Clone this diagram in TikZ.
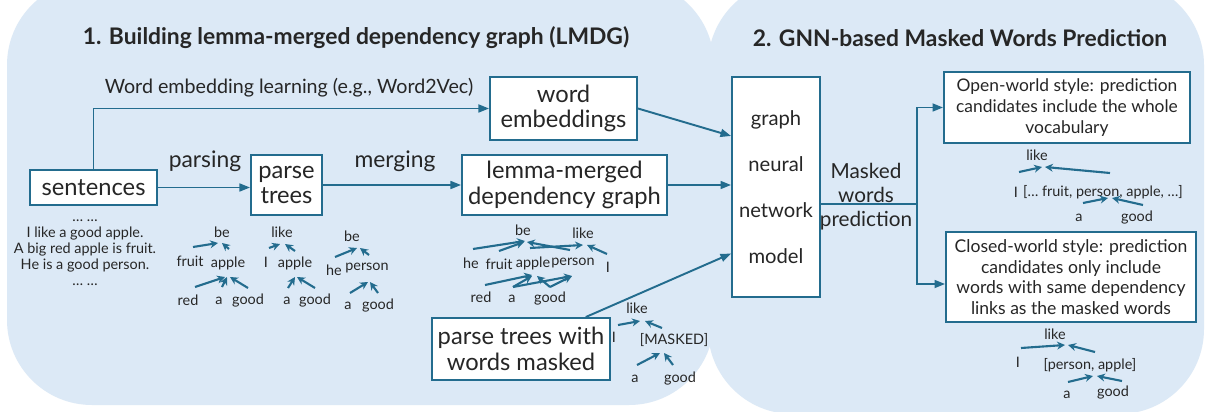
\documentclass[tikz,border=0pt]{standalone}
\usepackage{fontspec}
\setmainfont{Lato}
\usetikzlibrary{arrows.meta,calc}
\definecolor{panel}{HTML}{DCE9F6}
\definecolor{edge}{HTML}{236C8E}
\definecolor{ink}{HTML}{262626}
\newcommand\tarr[6]{\draw[ta] ([shift={(#2,#3)}]#1.center) -- ([shift={(#5,#6)}]#4.center);}
\begin{document}
\begin{tikzpicture}[x=0.02cm,y=-0.02cm,
 box/.style 2 args={draw=edge, line width=1.1pt, fill=white, minimum width=#1*0.02cm, minimum height=#2*0.02cm, inner sep=0pt, align=center, text=ink},
 big/.style={font=\fontsize{13.5}{14.7}\selectfont},
 lbl/.style={text=ink, inner sep=0pt, align=center},
 arr/.style={draw=edge, line width=1.1pt, -{Triangle[length=6pt,width=4.5pt]}},
 ln/.style={draw=edge, line width=1.1pt},
 tw/.style={font=\fontsize{8.2}{9}\selectfont, text=ink, inner sep=0pt},
 ta/.style={draw=edge, line width=1.2pt, -{Stealth[length=4.5pt,width=4.5pt]}},
]
\useasboundingbox (0,0) rectangle (1207,412);
\clip (0,0) rectangle (1207,412);
\fill[white] (0,0) rectangle (1207,412);
% panels
\fill[panel, rounded corners=1.7cm] (7,-20) rectangle (714,405);
\fill[panel, rounded corners=1.7cm] (708,-20) rectangle (1204,414);

% titles
\node[lbl, font=\bfseries\fontsize{13}{15}\selectfont] (t1) at (356,38) {1. Building lemma-merged dependency graph (LMDG)};
\node[lbl, font=\bfseries\fontsize{13}{15}\selectfont] (t2) at (960,38) {2. GNN-based Masked Words Prediction};

% main boxes
\node[box={127}{35}, big] (sent) at (93.5,187.5) {sentences};
\node[box={71}{60}, big] (pt) at (286.5,185) {parse\\trees};
\node[box={205}{60}, big] (lmdg) at (564.5,185) {lemma-merged\\dependency graph};
\node[box={147}{63}, big] (we) at (563.5,108.5) {word\\embeddings};
\node[box={88}{220}] (gnn) at (776,187) {};
\node[lbl, font=\fontsize{11.5}{26.3}\selectfont] (gnntxt) at (776,187) {graph\\neural\\network\\model};
\node[box={178}{62}, big] (masked) at (521,349) {parse trees with\\words masked};
\node[box={246}{71}, font=\fontsize{9.9}{12}\selectfont] (open) at (1067,107.5) {Open-world style: prediction\\candidates include the whole\\vocabulary};
\node[box={250}{90}, font=\fontsize{10}{11.7}\selectfont] (closed) at (1071,277) {Closed-world style: prediction\\candidates only include\\words with same dependency\\links as the masked words};

% labels
\node[lbl, font=\fontsize{11.2}{13}\selectfont] (wel) at (289,88) {Word embedding learning (e.g., Word2Vec)};
\node[lbl, font=\fontsize{13}{14}\selectfont] (parsing) at (205,161) {parsing};
\node[lbl, font=\fontsize{13}{14}\selectfont] (merging) at (395,161) {merging};
\node[lbl, font=\fontsize{11.8}{13.6}\selectfont] (mwp) at (866,197) {Masked\\words\\prediction};

% sentences text
\node[lbl, font=\fontsize{8.2}{9.1}\selectfont] (stxt) at (85,253) {\dots\ \dots\\I like a good apple.\\A big red apple is fruit.\\He is a good person.\\\dots\ \dots};

% connectors
\draw[arr] (sent.north) |- (we.west);
\draw[arr] (sent.east) -- (sent.east -| pt.west);
\draw[arr] (pt.east) -- (lmdg.west);
\draw[arr] (lmdg.east) -- (lmdg.east -| gnn.west);
\draw[arr] (we.east) -- ($(gnn.north west)!0.27!(gnn.south west)$);
\draw[arr] ($(masked.north west)!0.86!(masked.north east)$) -- ($(gnn.north west)!0.8!(gnn.south west)$);
\coordinate (j) at (917,204);
\draw[ln] (gnn.east |- j) -- (j);
\draw[arr] (j) |- (open.west);
\draw[arr] (j) |- ($(closed.west)+(0,7)$);

% tree 1
\node[tw] (a1be) at (222,232) {be};
\node[tw] (a1fruit) at (190,261) {fruit};
\node[tw] (a1apple) at (228,263) {apple};
\node[tw] (a1red) at (188,300) {red};
\node[tw] (a1a) at (219,301) {a};
\node[tw] (a1good) at (248,301) {good};
\tarr{a1fruit}{3}{-14}{a1be}{-4}{11}
\tarr{a1apple}{1}{-14}{a1be}{0}{11}
\tarr{a1red}{7}{-13}{a1apple}{-3}{14}
\tarr{a1a}{3}{-14}{a1apple}{-1}{14}
\tarr{a1good}{0}{-13}{a1apple}{2}{14}
% tree 2
\node[tw] (a2like) at (282,232) {like};
\node[tw] (a2I) at (266,262) {I};
\node[tw] (a2apple) at (295,263) {apple};
\node[tw] (a2a) at (287,301) {a};
\node[tw] (a2good) at (315,301) {good};
\tarr{a2I}{3}{-14}{a2like}{-2}{12}
\tarr{a2apple}{0}{-12}{a2like}{3}{12}
\tarr{a2a}{1}{-13}{a2apple}{0}{14}
\tarr{a2good}{0}{-13}{a2apple}{2}{14}
% tree 3
\node[tw] (a3be) at (352,236) {be};
\node[tw] (a3he) at (334,270) {he};
\node[tw] (a3person) at (367,268) {person};
\node[tw] (a3a) at (348,306) {a};
\node[tw] (a3good) at (378,306) {good};
\tarr{a3he}{1}{-13}{a3be}{5}{12}
\tarr{a3person}{2}{-13}{a3be}{8}{12}
\tarr{a3a}{2}{-13}{a3person}{1}{14}
\tarr{a3good}{0}{-13}{a3person}{3}{14}
% LMDG
\node[tw] (b4be) at (523,230) {be};
\node[tw] (b4like) at (583,233) {like};
\node[tw] (b4he) at (471,263) {he};
\node[tw] (b4fruit) at (499,264) {fruit};
\node[tw] (b4apple) at (533,263) {apple};
\node[tw] (b4person) at (573,263) {person};
\node[tw] (b4I) at (608,267) {I};
\node[tw] (b4red) at (481,297) {red};
\node[tw] (b4a) at (512,299) {a};
\node[tw] (b4good) at (550,299) {good};
\tarr{b4he}{2}{-14}{b4be}{2}{11}
\tarr{b4fruit}{0}{-13}{b4be}{1}{12}
\tarr{b4person}{-3}{-13}{b4be}{4}{12}
\tarr{b4apple}{-3}{-15}{b4like}{0}{12}
\tarr{b4I}{-1}{-13}{b4like}{4}{12}
\tarr{b4red}{4}{-12}{b4apple}{-1}{12}
\tarr{b4a}{1}{-12}{b4apple}{-1}{13}
\tarr{b4good}{0}{-12}{b4apple}{4}{13}
\tarr{b4a}{1}{-12}{b4person}{-1}{13}
\tarr{b4good}{0}{-12}{b4person}{-1}{13}
% masked
\node[tw] (c5like) at (637,308) {like};
\node[tw] (c5I) at (614,337) {I};
\node[tw] (c5mask) at (674,340) {[MASKED]};
\node[tw] (c5a) at (635,379) {a};
\node[tw] (c5good) at (680,379) {good};
\tarr{c5I}{4}{-12}{c5like}{3}{13}
\tarr{c5mask}{-12}{-12}{c5like}{8}{13}
\tarr{c5a}{2}{-14}{c5mask}{-14}{13}
\tarr{c5good}{-7}{-14}{c5mask}{-10}{13}
% open world
\node[tw] (d6like) at (1037,155) {like};
\node[tw] (d6I) at (1016,192) {I};
\node[tw] (d6br) at (1103,192) {[\dots\ fruit, person, apple, \dots]};
\node[tw] (d6a) at (1079,218) {a};
\node[tw] (d6good) at (1137,218) {good};
\tarr{d6I}{3}{-20}{d6like}{5}{12}
\tarr{d6br}{7}{-19}{d6like}{8}{12}
\tarr{d6a}{4}{-15}{d6br}{5}{6}
\tarr{d6good}{6}{-13}{d6br}{9}{6}
% closed world
\node[tw] (e7like) at (1055,334) {like};
\node[tw] (e7I) at (1018,362) {I};
\node[tw] (e7br) at (1090,365) {[person, apple]};
\node[tw] (e7a) at (1067,395) {a};
\node[tw] (e7good) at (1113,393) {good};
\tarr{e7I}{3}{-14}{e7like}{10}{11}
\tarr{e7br}{5}{-13}{e7like}{13}{11}
\tarr{e7a}{1}{-13}{e7br}{3}{11}
\tarr{e7good}{9}{-12}{e7br}{7}{11}
\end{tikzpicture}
\end{document}
